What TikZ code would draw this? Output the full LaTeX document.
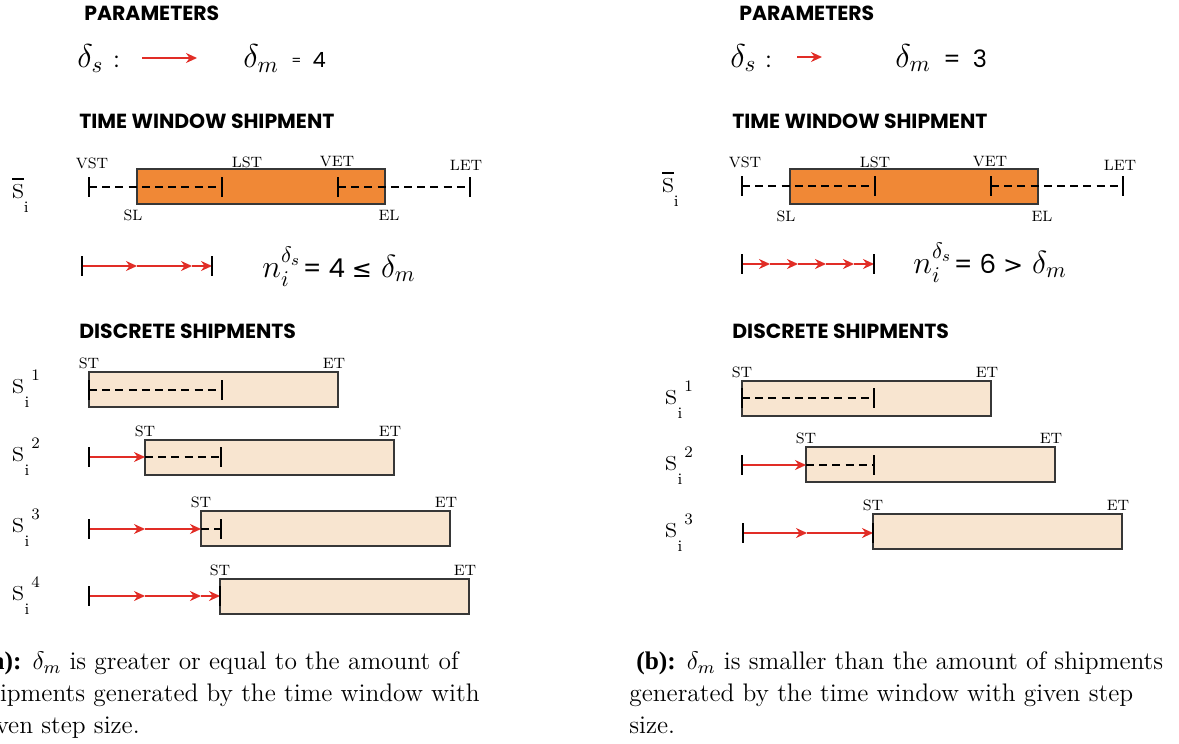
\RequirePackage{fix-cm}
\documentclass[tikz,border=0pt]{standalone}
\usepackage{amsmath}
\usepackage{fontspec}
\newfontfamily\headfont{Poppins}
\newfontfamily\symfont{DejaVu Sans}
\newfontfamily\capbold{Liberation Serif}
\usetikzlibrary{arrows.meta}
\definecolor{stepred}{RGB}{225,45,38}
\definecolor{winorange}{RGB}{240,136,54}
\definecolor{shipbeige}{RGB}{248,229,208}
\definecolor{boxgray}{RGB}{55,55,55}
\tikzset{
  tickmark/.style={black, line width=1.1pt},
  dashln/.style={black, line width=0.8pt, dash pattern=on 4pt off 2.6pt},
  steparr/.style={-{Stealth[length=5.5pt,width=5pt,inset=1.8pt]}, stepred, line width=0.9pt},
  winbox/.style={draw=boxgray, fill=winorange, line width=0.6pt},
  shipbox/.style={draw=boxgray, fill=shipbeige, line width=0.6pt},
  tlab/.style={font=\fontsize{7.5}{8}\selectfont, inner sep=0pt},
  sechead/.style={font=\headfont\bfseries\fontsize{10.2}{12}\selectfont, anchor=west, inner sep=0pt},
  slab/.style={font=\fontsize{16}{16}\selectfont, inner sep=0pt, anchor=base west},
  mathlab/.style={font=\fontsize{16.5}{17}\selectfont, inner sep=0pt, anchor=base west},
  numlab/.style={font=\headfont\fontsize{10.5}{11}\selectfont, inner sep=0pt, anchor=base west},
  formlab/.style={font=\fontsize{16}{16}\selectfont, inner sep=0pt, anchor=base west},
  capt/.style={font=\fontsize{12.7}{16}\selectfont, align=left, anchor=north west, inner sep=0pt},
}
\newcommand\shiplab[1]{s\rlap{\kern0.4pt\raisebox{-7pt}{\fontsize{8}{8}\selectfont i}}\kern3.8pt\raisebox{6.5pt}{\fontsize{8}{8}\selectfont #1}}
\newcommand\barlab{$\overline{\mathrm{s}}$\raisebox{-7pt}{\fontsize{8}{8}\selectfont i}}

\begin{document}
\begin{tikzpicture}[x=0.5pt, y=-0.5pt]
  \useasboundingbox (0,0) rectangle (1179,744);
  \clip (0,0) rectangle (1179,744);

  % ---------- (a) left panel
  \node[sechead] (parA) at (84,13) {PARAMETERS};
  \node[mathlab] (dsA) at (77,68) {$\delta_s$};
  \node[numlab] (colA) at (114,67) {:};
  \coordinate (dsA0) at (142,58);
  \coordinate (dsA1) at (197,58);
  \draw[steparr] (dsA0) -- (dsA1);
  \node[mathlab] (dmA) at (243,68) {$\delta_m$};
  \node[numlab] (dmvalA) at (291,68) {\raisebox{1.5pt}{\fontsize{7}{7}\selectfont =}\hspace{5.5pt}4};

  \node[sechead] (twA) at (79,121) {TIME WINDOW SHIPMENT};
  \node[slab] (sbarA) at (12,198) {\barlab};
  \coordinate (slA) at (137,169);
  \coordinate (elA) at (385,204);
  \coordinate (vstA) at (89,187);
  \coordinate (lstA) at (222,187);
  \coordinate (vetA) at (338,187);
  \coordinate (letA) at (470,187);
  \draw[winbox] (slA) rectangle (elA);
  \draw[dashln] (vstA) -- (lstA);
  \draw[dashln] (vetA) -- (letA);
  \foreach \p in {vstA,lstA,vetA,letA}
    \draw[tickmark] (\p) ++(0,-10) -- ++(0,20);
  \node[tlab] (vstlabA) at (92,163) {VST};
  \node[tlab] (lstlabA) at (247,162) {LST};
  \node[tlab] (vetlabA) at (337,162) {VET};
  \node[tlab] (letlabA) at (466,165) {LET};
  \node[tlab] (sllabA) at (133,215) {SL};
  \node[tlab] (ellabA) at (389,215) {EL};

  % step size along the window
  \coordinate (nA0) at (82,266);
  \coordinate (nA1) at (137,266);
  \coordinate (nA2) at (192,266);
  \coordinate (nA3) at (212,266);
  \draw[steparr] (nA0) -- (nA1);
  \draw[steparr] (nA1) -- (nA2);
  \draw[steparr] (nA2) -- (nA3);
  \draw[tickmark] (nA0) ++(0,-10) -- ++(0,20);
  \draw[tickmark] (nA3) ++(0,-10) -- ++(0,20);
  \node[formlab] (formA) at (262,277) {$n_i^{\delta_s}$\kern1pt{\headfont\fontsize{13}{13}\selectfont= 4 {\symfont\fontsize{12}{12}\selectfont ≤}}\hspace{4.5pt}$\delta_m$};

  \node[sechead] (discA) at (79,331) {DISCRETE SHIPMENTS};
  \foreach \k/\t/\a in {1/372/89, 2/440/145, 3/511/201, 4/579/220}{
    \coordinate (stA\k) at (\a,\t);
    \coordinate (etA\k) at (\a+249,\t+35);
    \draw[shipbox] (stA\k) rectangle (etA\k);
    \node[tlab, anchor=south] (stlabA\k) at (\a,\t-3) {ST};
    \node[tlab, anchor=south] (etlabA\k) at (\a+245,\t-3) {ET};
    \node[slab] (sA\k) at (12,\t+21) {\shiplab{\k}};
  }
  % row 1
  \coordinate (rA1a) at (89,390);
  \coordinate (rA1b) at (222,390);
  \draw[dashln] (rA1a) -- (rA1b);
  \draw[tickmark] (rA1a) ++(0,-10) -- ++(0,20);
  \draw[tickmark] (rA1b) ++(0,-10) -- ++(0,20);
  % row 2
  \coordinate (rA2a) at (89,457);
  \coordinate (rA2b) at (145,457);
  \coordinate (rA2c) at (221,457);
  \draw[steparr] (rA2a) -- (rA2b);
  \draw[dashln] (rA2b) -- (rA2c);
  \draw[tickmark] (rA2a) ++(0,-10) -- ++(0,20);
  \draw[tickmark] (rA2c) ++(0,-10) -- ++(0,20);
  % row 3
  \coordinate (rA3a) at (89,529);
  \coordinate (rA3b) at (145,529);
  \coordinate (rA3c) at (201,529);
  \coordinate (rA3d) at (221,529);
  \draw[steparr] (rA3a) -- (rA3b);
  \draw[steparr] (rA3b) -- (rA3c);
  \draw[dashln] (rA3c) -- (rA3d);
  \draw[tickmark] (rA3a) ++(0,-10) -- ++(0,20);
  \draw[tickmark] (rA3d) ++(0,-10) -- ++(0,20);
  % row 4
  \coordinate (rA4a) at (89,596);
  \coordinate (rA4b) at (145,596);
  \coordinate (rA4c) at (201,596);
  \coordinate (rA4d) at (220,596);
  \draw[steparr] (rA4a) -- (rA4b);
  \draw[steparr] (rA4b) -- (rA4c);
  \draw[steparr] (rA4c) -- (rA4d);
  \draw[tickmark] (rA4a) ++(0,-10) -- ++(0,20);
  \draw[tickmark] (rA4d) ++(0,-10) -- ++(0,20);

  \node[capt] (capA) at (-24,651) {\hspace*{3.5pt}{\capbold\bfseries(a):} $\delta_m$ is greater or equal to the amount of\\shipments generated by the time window with\\given step size.};

  % ---------- (b) right panel
  \begin{scope}[xshift=326.5pt]
    \node[sechead] (parB) at (86,13) {PARAMETERS};
    \node[mathlab] (dsB) at (77,67) {$\delta_s$};
    \node[numlab] (colB) at (113,67) {:};
    \coordinate (dsB0) at (144,57);
    \coordinate (dsB1) at (169,57);
    \draw[steparr] (dsB0) -- (dsB1);
    \node[mathlab] (dmB) at (242,67) {$\delta_m$};
    \node[numlab, font=\headfont\fontsize{12}{12}\selectfont] (dmvalB) at (290,67) {=\hspace{6pt}3};

    \node[sechead] (twB) at (79,121) {TIME WINDOW SHIPMENT};
    \node[slab] (sbarB) at (9,192) {\barlab};
    \coordinate (slB) at (137,169);
    \coordinate (elB) at (385,204);
    \coordinate (vstB) at (89,186);
    \coordinate (lstB) at (222,186);
    \coordinate (vetB) at (338,186);
    \coordinate (letB) at (470,186);
    \draw[winbox] (slB) rectangle (elB);
    \draw[dashln] (vstB) -- (lstB);
    \draw[dashln] (vetB) -- (letB);
    \foreach \p in {vstB,lstB,vetB,letB}
      \draw[tickmark] (\p) ++(0,-10) -- ++(0,20);
    \node[tlab] (vstlabB) at (92,162) {VST};
    \node[tlab] (lstlabB) at (222,162) {LST};
    \node[tlab] (vetlabB) at (337,162) {VET};
    \node[tlab] (letlabB) at (467,165) {LET};
    \node[tlab] (sllabB) at (133,216) {SL};
    \node[tlab] (ellabB) at (389,216) {EL};

    % step size along the window
    \foreach \i/\x in {0/89, 1/117, 2/145, 3/173, 4/201, 5/221}
      \coordinate (nB\i) at (\x,264);
    \foreach \i/\j in {0/1, 1/2, 2/3, 3/4, 4/5}
      \draw[steparr] (nB\i) -- (nB\j);
    \draw[tickmark] (nB0) ++(0,-10) -- ++(0,20);
    \draw[tickmark] (nB5) ++(0,-10) -- ++(0,20);
    \node[formlab] (formB) at (260,273) {$n_i^{\delta_s}$\kern1pt{\headfont\fontsize{13}{13}\selectfont= 6 {\symfont\fontsize{12}{12}\selectfont >}}\hspace{4.5pt}$\delta_m$};

    \node[sechead] (discB) at (79,331) {DISCRETE SHIPMENTS};
    \foreach \k/\t/\a in {1/381/89, 2/447/153, 3/514/220}{
      \coordinate (stB\k) at (\a,\t);
      \coordinate (etB\k) at (\a+249,\t+35);
      \draw[shipbox] (stB\k) rectangle (etB\k);
      \node[tlab, anchor=south] (stlabB\k) at (\a,\t-3) {ST};
      \node[tlab, anchor=south] (etlabB\k) at (\a+245,\t-3) {ET};
      \node[slab] (sB\k) at (12,\t+23) {\shiplab{\k}};
    }
    % row 1
    \coordinate (rB1a) at (89,398);
    \coordinate (rB1b) at (221,398);
    \draw[dashln] (rB1a) -- (rB1b);
    \draw[tickmark] (rB1a) ++(0,-10) -- ++(0,20);
    \draw[tickmark] (rB1b) ++(0,-10) -- ++(0,20);
    % row 2
    \coordinate (rB2a) at (89,465);
    \coordinate (rB2b) at (153,465);
    \coordinate (rB2c) at (221,465);
    \draw[steparr] (rB2a) -- (rB2b);
    \draw[dashln] (rB2b) -- (rB2c);
    \draw[tickmark] (rB2a) ++(0,-10) -- ++(0,20);
    \draw[tickmark] (rB2c) ++(0,-10) -- ++(0,20);
    % row 3
    \coordinate (rB3a) at (90,533);
    \coordinate (rB3b) at (154,533);
    \coordinate (rB3c) at (220,533);
    \draw[steparr] (rB3a) -- (rB3b);
    \draw[steparr] (rB3b) -- (rB3c);
    \draw[tickmark] (rB3a) ++(0,-10) -- ++(0,20);
    \draw[tickmark] (rB3c) ++(0,-10) -- ++(0,20);

    \node[capt] (capB) at (-24,651) {\hspace*{3.5pt}{\capbold\bfseries(b):} $\delta_m$ is smaller than the amount of shipments\\generated by the time window with given step\\size.};
  \end{scope}
\end{tikzpicture}
\end{document}
